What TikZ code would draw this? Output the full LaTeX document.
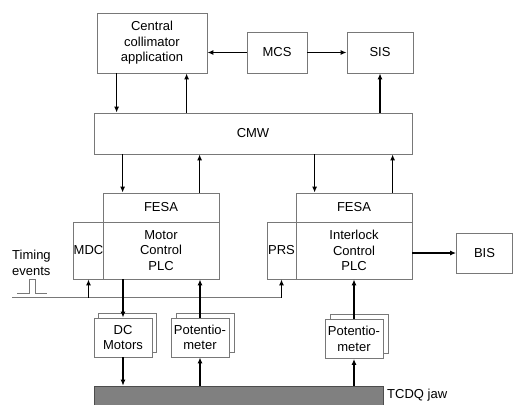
\documentclass[tikz,border=0pt]{standalone}
\usepackage{fontspec}
\setmainfont{Liberation Sans}
\usetikzlibrary{arrows.meta}
\definecolor{boxgray}{RGB}{120,120,120}
\definecolor{jawgray}{RGB}{128,128,128}
\begin{document}
\begin{tikzpicture}[x=1pt, y=-1pt, font=\fontsize{13}{15.5}\selectfont]
        \tikzstyle{box} = [draw=boxgray, line width=0.8pt, fill=white, inner sep=0pt, align=center]
        \tikzstyle{arr} = [-{Latex[length=6pt,width=5pt]}, line width=1.5pt, black]
        \tikzstyle{wire} = [draw=boxgray, line width=0.8pt]
        \useasboundingbox (0,0) rectangle (513,404);

        % top level
        \node[box, minimum width=110pt, minimum height=60pt] (cca) at (152,43) {Central\\collimator\\application};
        \node[box, minimum width=60pt, minimum height=41pt] (mcs) at (277,52.5) {MCS};
        \node[box, minimum width=66pt, minimum height=41pt] (sis) at (380,52.5) {SIS};
        \node[box, minimum width=318pt, minimum height=41pt] (cmw) at (253,133.5) {CMW};

        % front ends
        \node[box, minimum width=116pt, minimum height=29pt] (fesa1) at (161,207.5) {FESA};
        \node[box, minimum width=116pt, minimum height=57pt] (mplc) at (161,250.5) {Motor\\Control\\PLC};
        \node[box, minimum width=29pt, minimum height=57pt] (mdc) at (88.5,250.5) {MDC};
        \node[box, minimum width=116pt, minimum height=29pt] (fesa2) at (354,207.5) {FESA};
        \node[box, minimum width=116pt, minimum height=57pt] (iplc) at (354,250.5) {Interlock\\Control\\PLC};
        \node[box, minimum width=29pt, minimum height=57pt] (prs) at (281.5,250.5) {PRS};
        \node[box, minimum width=56pt, minimum height=40pt] (bis) at (484.5,253) {BIS};

        % hardware
        \node[box, minimum width=58pt, minimum height=39pt] (dcmb) at (127,332.5) {};
        \node[box, minimum width=58pt, minimum height=39pt] (dcm) at (123,337.5) {DC\\Motors};
        \node[box, minimum width=58pt, minimum height=39pt] (pot1b) at (205,332.5) {};
        \node[box, minimum width=58pt, minimum height=39pt] (pot1) at (200,337.5) {Potentio-\\meter};
        \node[box, minimum width=58pt, minimum height=39pt] (pot2b) at (359,334) {};
        \node[box, minimum width=58pt, minimum height=39pt] (pot2) at (354,339) {Potentio-\\meter};
        \node[draw=black!70, fill=jawgray, line width=0.6pt, minimum width=289pt, minimum height=22pt, inner sep=0pt] (jaw) at (238.5,397) {};
        \node[anchor=west, inner sep=0pt] (jawlabel) at (387,395) {TCDQ jaw};

        % timing
        \node[anchor=west, align=left, inner sep=0pt] (timing) at (12,263) {Timing\\events};
        \draw[wire] (17,293) -- (29,293) -- (29,279) -- (35,279) -- (35,293) -- (47,293);
        \coordinate (tl) at (12,297.5);
        \draw[wire] (tl) -- (prs.south |- tl);
        \draw[arr] (prs.south |- tl) -- (prs.south);
        \draw[arr] (mdc.south |- tl) -- (mdc.south);

        % connectors
        \draw[arr] ([xshift=20pt]cca.south west) -- ([xshift=20pt]cca.south west |- cmw.north);
        \draw[arr] ([xshift=90pt]cca.south west |- cmw.north) -- ([xshift=90pt]cca.south west);
        \draw[arr] (mcs.west) -- (mcs.west -| cca.east);
        \draw[arr] (mcs.east) -- (sis.west);
        \draw[arr] (sis.south |- cmw.north) -- (sis.south);
        \draw[arr] ([xshift=20pt]fesa1.north west |- cmw.south) -- ([xshift=20pt]fesa1.north west);
        \draw[arr] ([xshift=97pt]fesa1.north west) -- ([xshift=97pt]fesa1.north west |- cmw.south);
        \draw[arr] ([xshift=19pt]fesa2.north west |- cmw.south) -- ([xshift=19pt]fesa2.north west);
        \draw[arr] ([xshift=97pt]fesa2.north west) -- ([xshift=97pt]fesa2.north west |- cmw.south);
        \draw[arr] (dcm.north |- mplc.south) -- (dcm.north);
        \draw[arr] (dcm.south) -- (dcm.south |- jaw.north);
        \draw[arr] (pot1.north) -- (pot1.north |- mplc.south);
        \draw[arr] (pot1.south |- jaw.north) -- (pot1.south);
        \draw[arr] (pot2.north) -- (pot2.north |- iplc.south);
        \draw[arr] (pot2.south |- jaw.north) -- (pot2.south);
        \draw[arr] (iplc.east |- bis.west) -- (bis.west);
\end{tikzpicture}
\end{document}
